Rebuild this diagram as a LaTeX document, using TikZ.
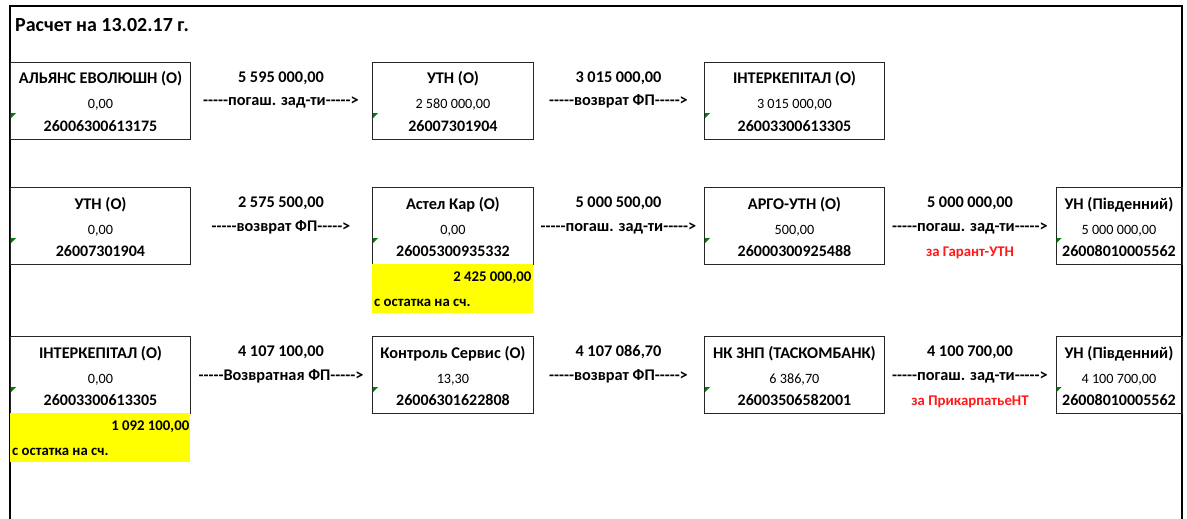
\documentclass[tikz,border=0pt]{standalone}
\usepackage{fontspec}
\setmainfont{Carlito}
\definecolor{grn}{RGB}{0,128,0}
\definecolor{redt}{RGB}{255,25,25}
\definecolor{yel}{RGB}{255,255,0}
\tikzset{
  acc/.style={draw=black!85, line width=0.9pt, minimum height=76.5pt, inner sep=0pt, anchor=north west},
  ttl/.style={font=\bfseries\fontsize{16.3}{19}\selectfont, inner sep=0pt, anchor=base},
  amt/.style={font=\fontsize{14.2}{16}\selectfont, inner sep=0pt, anchor=base},
  num/.style={font=\bfseries\fontsize{16}{19}\selectfont, inner sep=0pt, anchor=base},
  lbl/.style={font=\bfseries\fontsize{16.3}{19}\selectfont, inner sep=0pt, anchor=base},
  note/.style={font=\bfseries\fontsize{14.8}{17}\selectfont, text=redt, inner sep=0pt, anchor=base},
  ylw/.style={fill=yel, draw=none, minimum height=49.5pt, inner sep=0pt, anchor=north west},
  ytxt/.style={font=\bfseries\fontsize{14.8}{17}\selectfont, inner sep=0pt},
  frame/.style={line width=2pt, black},
}
\newcommand\accbox[7]{% name, x, y, width, title, amount, number
  \node[acc, minimum width=#4pt] (#1) at (#2,#3) {};
  \path (#1.north) ++(0,22) node[ttl] (#1-t) {#5};
  \path (#1.north) ++(0,47) node[amt] (#1-a) {#6};
  \path (#1.north) ++(0,69.5) node[num] (#1-n) {#7};
  \fill[grn] (#1.north west) ++(1,51) -- ++(5,0) -- ++(-5,5) -- cycle;
}
\newcommand\flowlbl[5]{% name, x centre, box top, amount, arrow text
  \node[lbl] (#1-a) at (#2,#3+20) {#4};
  \node[lbl] (#1-b) at (#2,#3+44) {#5};
}
\newcommand\restbox[4]{% name, x, y, width
  \node[ylw, minimum width=#4pt] (#1) at (#2,#3) {};
}
\begin{document}
\begin{tikzpicture}[x=1pt,y=-1pt]
\useasboundingbox (0,0) rectangle (1187,519);
% outer frame (open at the bottom)
\draw[frame] (10,519) -- (10,6.5) -- (1181.5,6.5) -- (1181.5,519);
\node[font=\bfseries\fontsize{20}{24}\selectfont, inner sep=0pt, anchor=base west] (title) at (15,31.7) {Расчет на 13.02.17 г.};

% Row 1
\accbox{a1}{10}{62}{180}{АЛЬЯНС ЕВОЛЮШН (О)}{0,00}{26006300613175}
\accbox{a2}{372}{62}{161}{УТН (О)}{2 580 000,00}{26007301904}
\accbox{a3}{704}{62}{180}{ІНТЕРКЕПІТАЛ (О)}{3 015 000,00}{26003300613305}
\flowlbl{f11}{281}{62}{5 595 000,00}{-{}-{}-{}-{}-погаш. зад-ти-{}-{}-{}-{}->}
\flowlbl{f12}{618.5}{62}{3 015 000,00}{-{}-{}-{}-{}-возврат ФП-{}-{}-{}-{}->}

% Row 2
\accbox{b1}{10}{187}{180}{УТН (О)}{0,00}{26007301904}
\accbox{b2}{372}{187}{161}{Астел Кар (О)}{0,00}{26005300935332}
\accbox{b3}{704}{187}{180}{АРГО-УТН (О)}{500,00}{26000300925488}
\accbox{b4}{1055.5}{187}{126}{УН (Південний)}{5 000 000,00}{26008010005562}
\flowlbl{f21}{281}{187}{2 575 500,00}{-{}-{}-{}-{}-возврат ФП-{}-{}-{}-{}->}
\flowlbl{f22}{618.5}{187}{5 000 500,00}{-{}-{}-{}-{}-погаш. зад-ти-{}-{}-{}-{}->}
\flowlbl{f23}{970}{187}{5 000 000,00}{-{}-{}-{}-{}-погаш. зад-ти-{}-{}-{}-{}->}
\node[note] (f23-c) at (970,256) {за Гарант-УТН};
\restbox{r2}{372}{263.5}{161}
\node[ytxt, anchor=base east] (r2-a) at (531.5,281.7) {2 425 000,00};
\node[ytxt, anchor=base west] (r2-b) at (374,306.7) {с остатка на сч.};

% Row 3
\accbox{c1}{10}{336}{180}{ІНТЕРКЕПІТАЛ (О)}{0,00}{26003300613305}
\accbox{c2}{372}{336}{161}{Контроль Сервис (О)}{13,30}{26006301622808}
\accbox{c3}{704}{336}{180}{НК ЗНП (ТАСКОМБАНК)}{6 386,70}{26003506582001}
\accbox{c4}{1055.5}{336}{126}{УН (Південний)}{4 100 700,00}{26008010005562}
\flowlbl{f31}{281}{336}{4 107 100,00}{-{}-{}-{}-{}-Возвратная ФП-{}-{}-{}-{}->}
\flowlbl{f32}{618.5}{336}{4 107 086,70}{-{}-{}-{}-{}-возврат ФП-{}-{}-{}-{}->}
\flowlbl{f33}{970}{336}{4 100 700,00}{-{}-{}-{}-{}-погаш. зад-ти-{}-{}-{}-{}->}
\node[note] (f33-c) at (970,405) {за ПрикарпатьеНТ};
\restbox{r3}{10}{412.5}{180}
\node[ytxt, anchor=base east] (r3-a) at (189.5,430.7) {1 092 100,00};
\node[ytxt, anchor=base west] (r3-b) at (12,455.7) {с остатка на сч.};
\end{tikzpicture}
\end{document}
